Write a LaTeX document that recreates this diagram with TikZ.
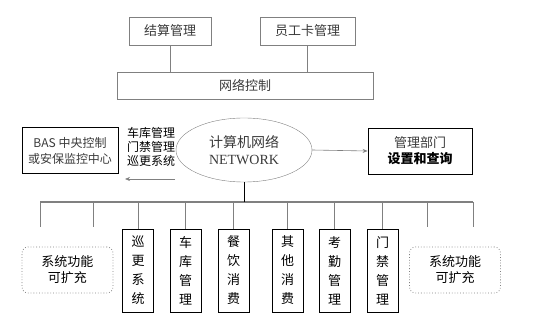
\documentclass[tikz,border=0pt]{standalone}
\usepackage{fontspec}
\setmainfont{Noto Sans CJK SC}
\newfontfamily\serifen{Liberation Serif}
\usepackage{tikz}
\usetikzlibrary{positioning,arrows.meta,shapes.geometric}
\definecolor{linegray}{HTML}{808080}
\definecolor{txtgray}{HTML}{3A3A3A}
\newcommand{\cjktext}{\fontsize{13}{16}\selectfont}
\newcommand{\vtext}[4]{#1\\#2\\#3\\#4}

\begin{document}
\begin{tikzpicture}[x=1pt,y=-1pt,
  graybox/.style={draw=linegray,semithick,minimum height=28pt,text=txtgray,font=\cjktext,inner sep=2pt},
  darkbox/.style={draw=black,thick,minimum height=46pt,align=center,font=\cjktext,inner sep=2pt},
  vbox/.style={draw=black,semithick,minimum width=31pt,minimum height=83pt,align=center,text=black,
    font=\fontsize{13}{19}\selectfont,inner sep=0pt},
  extbox/.style={draw=gray,dotted,thick,rounded corners=6pt,minimum width=91pt,minimum height=46pt,
    align=center,font=\cjktext,inner sep=2pt},
  conn/.style={draw=linegray,semithick},
  bus/.style={draw=linegray,line width=1.6pt}]
  \useasboundingbox (0,0) rectangle (542,323);
  % top part
  \node[graybox,minimum width=82pt] (jiesuan) at (170,31) {结算管理};
  \node[graybox,minimum width=95pt] (yuangong) at (307.5,31) {员工卡管理};
  \node[graybox,minimum width=256pt,minimum height=27pt] (wangluo) at (245,85.5) {网络控制};
  \draw[conn] (jiesuan.south) -- (jiesuan.south |- wangluo.north);
  \draw[conn] (yuangong.south) -- (yuangong.south |- wangluo.north);
  % middle row
  \node[darkbox,minimum width=96pt,text=txtgray,font=\fontsize{12}{16}\selectfont] (bas) at (70,150.5) {BAS 中央控制\\或安保监控中心};
  \node[align=left,font=\fontsize{12}{14}\selectfont,inner sep=0pt] (sublist) at (151,147) {车库管理\\门禁管理\\巡更系统};
  \node[ellipse,draw=linegray,minimum width=136pt,minimum height=64pt,align=center,text=txtgray,
    font=\fontsize{14}{17}\selectfont,inner sep=0pt] (net) at (244,150) {计算机网络\\{\serifen NETWORK}};
  \node[darkbox,minimum width=104pt] (guanli) at (420,151) {{\color{txtgray}管理部门}\\\textbf{设置和查询}};
  \coordinate (arrstart) at (175,179);
  \coordinate (arrend) at (125,179);
  \draw[conn,-{Stealth[length=5pt,width=4pt]}] (arrstart) -- (arrend);
  \draw[conn,-{Stealth[length=5pt,width=4pt]}] (net.east) -- (guanli.west);
  % bus
  \coordinate (busl) at (40,202);
  \coordinate (busr) at (473,202);
  \draw[bus] (busl) -- (busr);
  \draw[draw=black,semithick] (net.south) -- (net.south |- busl);
  % function boxes
  \node[vbox] (xungeng) at (138,270.5) {\vtext{巡}{更}{系}{统}};
  \node[vbox] (cheku) at (185.5,270.5) {\vtext{车}{库}{管}{理}};
  \node[vbox] (canyin) at (233.5,270.5) {\vtext{餐}{饮}{消}{费}};
  \node[vbox] (qita) at (287.5,270.5) {\vtext{其}{他}{消}{费}};
  \node[vbox] (kaoqin) at (334.5,270.5) {\vtext{考}{勤}{管}{理}};
  \node[vbox] (menjin) at (382.5,270.5) {\vtext{门}{禁}{管}{理}};
  \foreach \b in {xungeng,cheku,canyin,qita,kaoqin,menjin}
    \draw[conn] (\b.north) -- (\b.north |- busl);
  \node[extbox] (extl) at (67.5,270) {系统功能\\可扩充};
  \node[extbox] (extr) at (455,270) {系统功能\\可扩充};
  % open drops
  \coordinate (d1) at (40,227);
  \coordinate (d2) at (93,227);
  \coordinate (d3) at (427,227);
  \coordinate (d4) at (473,227);
  \foreach \d in {d1,d2,d3,d4}
    \draw[conn] (\d) -- (\d |- busl);
\end{tikzpicture}
\end{document}
